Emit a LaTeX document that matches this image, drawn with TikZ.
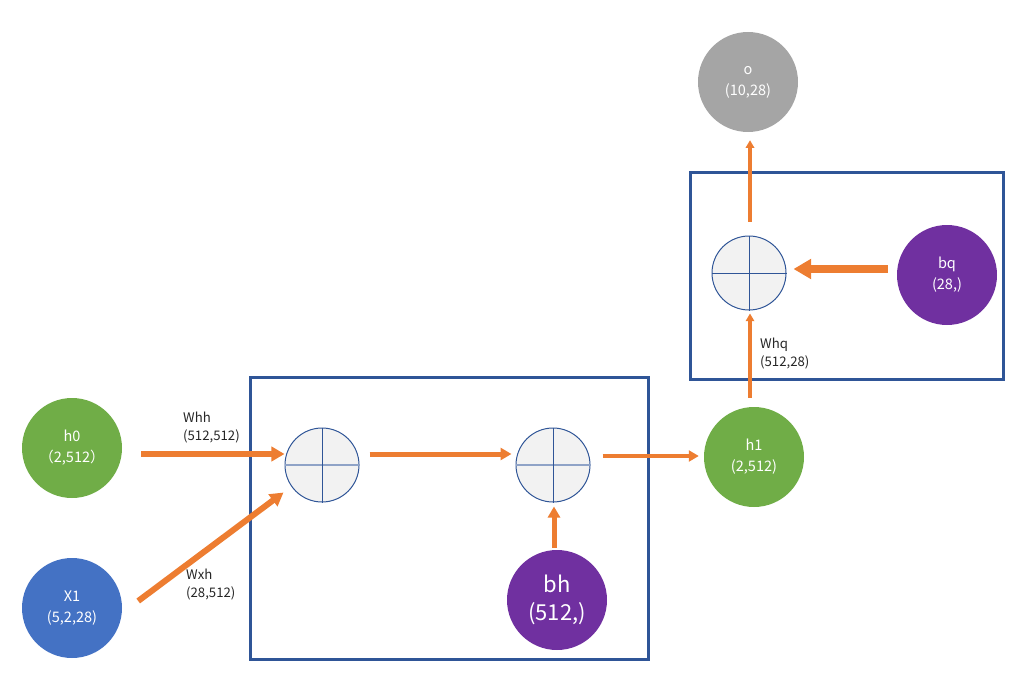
\documentclass[tikz,border=0pt]{standalone}
\usepackage{fontspec}
\setmainfont{Noto Sans CJK SC}
\usetikzlibrary{arrows.meta,calc}
\definecolor{cgreen}{HTML}{70AD47}
\definecolor{cblue}{HTML}{4472C4}
\definecolor{cpurple}{HTML}{7030A0}
\definecolor{cgray}{HTML}{A5A5A5}
\definecolor{corange}{HTML}{ED7D31}
\definecolor{cframe}{HTML}{2F5597}
\definecolor{cplus}{HTML}{F2F2F2}
\definecolor{cline}{HTML}{8FA3C7}
\tikzset{
  var/.style={circle,minimum size=100pt,inner sep=0pt,text=white,align=center,font=\fontsize{14.5}{21}\selectfont},
  addnode/.style={circle,minimum size=74pt,inner sep=0pt,fill=cplus,draw=cframe,line width=1pt},
  frame/.style={draw=cframe,line width=3pt},
  arr/.style={draw=corange,line width=#1,-{Triangle[length=2.2*#1,width=2.4*#1]}},
  lbl/.style={anchor=north west,inner sep=0pt,align=left,font=\fontsize{13.2}{18}\selectfont,text=black!85}
}
\begin{document}
\begin{tikzpicture}[x=1pt,y=-1pt]
\useasboundingbox (0,0) rectangle (1021,677);
% frames
\draw[frame] (250,377) rectangle (648,659);
\draw[frame] (690,172) rectangle (1003,379);
% variable nodes
\node[var,fill=cgreen] (h0) at (72,448) {h0\\（2,512）};
\node[var,fill=cblue] (x1) at (72,608) {X1\\(5,2,28)};
\node[var,fill=cpurple,font=\fontsize{22}{28}\selectfont] (bh) at (557,600) {bh\\(512,)};
\node[var,fill=cgreen] (h1) at (754,457) {h1\\(2,512)};
\node[var,fill=cgray] (o) at (748,82) {o\\(10,28)};
\node[var,fill=cpurple] (bq) at (947,275) {bq\\(28,)};
% adders
\node[addnode] (p1) at (322,465) {};
\node[addnode] (p2) at (553,465) {};
\node[addnode] (p3) at (749,273) {};
\foreach \p in {p1,p2}{
  \draw[cline,line width=1.6pt] (\p.west) -- (\p.east);
  \draw[cframe,line width=1pt] (\p.north) -- (\p.south);
}
\draw[cframe,line width=1pt] (p3.west) -- (p3.east);
\draw[cframe,line width=1pt] (p3.north) -- (p3.south);
% arrows
\draw[arr=6pt] ($(h0.east)+(19,6)$) -- ($(p1.west)+(0,-11)$);
\draw[arr=6pt] ($(x1.east)+(16,-7)$) -- ($(p1.south west)+(-12,1)$);
\draw[arr=5pt] ($(p1.east)+(10,-11)$) -- ($(p2.west)+(-4,-11)$);
\draw[arr=4.5pt] ($(p2.east)+(12,-9)$) -- ($(h1.west)+(-5,-1)$);
\draw[arr=5pt] ($(bh.north)+(-3,-2)$) -- ($(p2.south)+(1,4)$);
\draw[arr=3.5pt] ($(h1.north)+(-4,-9)$) -- ($(p3.south)+(1,3)$);
\draw[arr=3.5pt] ($(p3.north)+(1,-14)$) -- ($(o.south)+(2,8)$);
\draw[arr=8pt] ($(bq.west)+(-9,-6)$) -- ($(p3.east)+(7,-4)$);
% labels
\node[lbl] (lwhh) at (183,412) {Whh\\(512,512)};
\node[lbl] (lwxh) at (186,569) {Wxh\\(28,512)};
\node[lbl] (lwhq) at (760,338) {Whq\\(512,28)};
\end{tikzpicture}
\end{document}
